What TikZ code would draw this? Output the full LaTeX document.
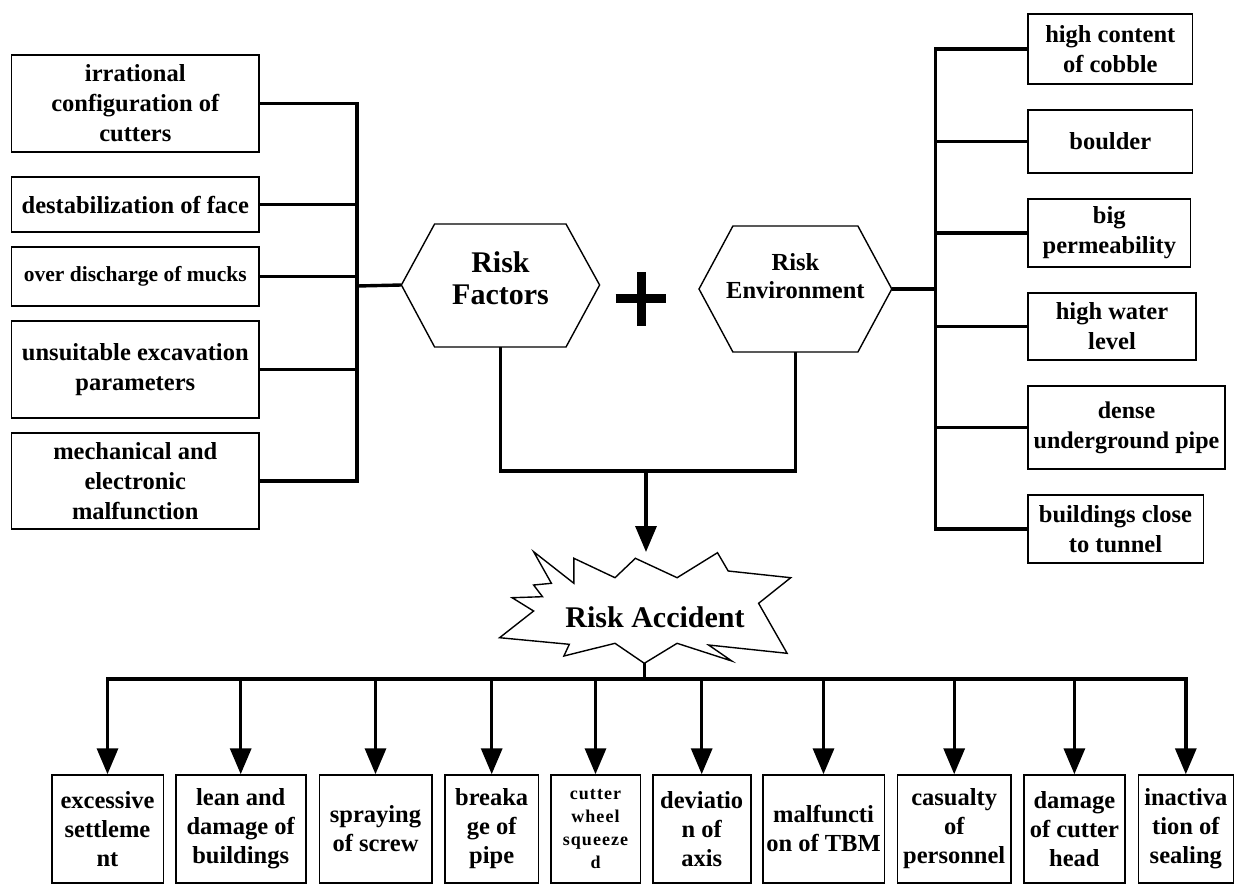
\documentclass[tikz,border=0pt]{standalone}
\usepackage{fontspec}
\setmainfont{Liberation Serif}
\usetikzlibrary{arrows.meta}
\begin{document}
\begin{tikzpicture}[x=1pt,y=-1pt,
  box/.style={draw,line width=1.6pt,inner sep=0pt,align=center,font=\fontsize{24.5}{30}\selectfont\bfseries},
  bbox/.style={box,minimum height=107.7pt,font=\fontsize{24.5}{29}\selectfont\bfseries},
  conn/.style={line width=3.4pt,line join=miter},
  arr/.style={conn,-{Triangle[width=21pt,length=26pt]}},
  shp/.style={draw,line width=1.4pt,line join=miter}]
\useasboundingbox (0,0) rectangle (1234,886);

% ---------- left boxes ----------
\node[box,minimum width=247.3pt,minimum height=97pt] (l1) at (135.3,103.5) {irrational\\configuration of\\cutters};
\node[box,minimum width=247.3pt,minimum height=55pt] (l2) at (135.3,204.5) {destabilization of face};
\node[box,minimum width=247.3pt,minimum height=59pt,font=\fontsize{21.5}{26}\selectfont\bfseries] (l3) at (135.3,276.5) {over discharge of mucks};
\node[box,minimum width=247.3pt,minimum height=97pt] (l4) at (135.3,369.5) {unsuitable excavation\\parameters};
\node[box,minimum width=247.3pt,minimum height=96pt] (l5) at (135.3,481) {mechanical and\\electronic\\malfunction};

% ---------- right boxes ----------
\node[box,minimum width=164.7pt,minimum height=70pt] (r1) at (1110.3,49) {high content\\of cobble};
\node[box,minimum width=164.7pt,minimum height=63pt] (r2) at (1110.3,141.5) {boulder};
\node[box,minimum width=162.7pt,minimum height=68pt] (r3) at (1109.3,233) {big\\permeability};
\node[box,minimum width=168pt,minimum height=67pt] (r4) at (1112,326.5) {high water\\level};
\node[box,minimum width=197pt,minimum height=83pt,font=\fontsize{24}{30}\selectfont\bfseries] (r5) at (1126.5,427.5) {dense\\underground pipe};
\node[box,minimum width=175.6pt,minimum height=67.7pt] (r6) at (1115.5,529) {buildings close\\to tunnel};

% ---------- hexagons ----------
\draw[shp] (401.4,285) -- (434.6,224) -- (566,224) -- (599.6,285) -- (566,347) -- (434.6,347) -- cycle;
\coordinate (rf-w) at (401.4,285);
\coordinate (rf-s) at (500.5,347);
\node[align=center,inner sep=0pt,font=\fontsize{30}{32}\selectfont\bfseries] (rf) at (500.5,278) {Risk\\Factors};

\draw[shp] (699,289) -- (732.9,226) -- (857.9,226) -- (891.8,289) -- (857.9,352) -- (732.9,352) -- cycle;
\coordinate (env-e) at (891.8,289);
\coordinate (env-s) at (795.4,352);
\node[align=center,inner sep=0pt,font=\fontsize{24.5}{28}\selectfont\bfseries] (env) at (795.4,276) {Risk\\Environment};

% plus sign
\draw[line width=8.5pt] (615.7,298.5) -- (665.7,298.5);
\draw[line width=9pt] (641,272) -- (641,326);

% ---------- starburst ----------
\draw[shp] (533.6,551.7) -- (551.4,583.3) -- (533.6,585) -- (542.5,596.7) -- (512.1,597.7)
  -- (533.6,611) -- (499.6,637.7) -- (569.3,644.3) -- (563.9,656) -- (615,643.3)
  -- (644.3,663.3) -- (677.1,643.3) -- (731.8,661) -- (708.6,645) -- (787.1,653.3)
  -- (758.6,603.3) -- (790.7,577.7) -- (728.2,571) -- (717.5,552.7) -- (677.1,577.7)
  -- (635.4,558.3) -- (615,577.7) -- (573.9,558.3) -- (573.9,583.3) -- cycle;
\coordinate (acc-n) at (646,552);
\coordinate (acc-s) at (644.3,663.3);
\node[inner sep=0pt,font=\fontsize{30}{32}\selectfont\bfseries] (acc) at (655,617.5) {Risk Accident};

% ---------- bottom boxes ----------
\node[bbox,minimum width=111.6pt] (b1) at (107.5,828.9) {excessive\\settleme\\nt};
\node[bbox,minimum width=130pt] (b2) at (240.7,828.9) {lean and\\damage of\\buildings};
\node[bbox,minimum width=112.4pt] (b3) at (375.5,828.9) {spraying\\of screw};
\node[bbox,minimum width=93.3pt] (b4) at (491.7,828.9) {breaka\\ge of\\pipe};
\node[bbox,minimum width=89.6pt,font=\fontsize{18}{23}\selectfont\bfseries\addfontfeature{LetterSpace=6}] (b5) at (595.5,828.9) {cutter\\wheel\\squeeze\\d};
\node[bbox,minimum width=98pt] (b6) at (701.7,828.9) {deviatio\\n of\\axis};
\node[bbox,minimum width=121.6pt] (b7) at (823.5,828.9) {malfuncti\\on of TBM};
\node[bbox,minimum width=113.7pt] (b8) at (954.2,828.9) {casualty\\of\\personnel};
\node[bbox,minimum width=101.3pt] (b9) at (1074.4,828.9) {damage\\of cutter\\head};
\node[bbox,minimum width=95pt] (b10) at (1185.8,828.9) {inactiva\\tion of\\sealing};

% ---------- connectors ----------
\coordinate (lj) at (357,286);
\foreach \i in {1,...,5} \draw[conn] (l\i.east) -| (lj);
\draw[conn] (lj) -- (rf-w);

\coordinate (rj) at (935.7,289);
\draw[conn] (env-e) -- (rj);
\foreach \i in {1,...,6} \draw[conn] (r\i.west) -| (rj);

\coordinate (mj) at (646,471);
\draw[conn] (rf-s) |- (mj);
\draw[conn] (env-s) |- (mj);
\draw[arr] (mj) -- (acc-n);

\coordinate (bj) at (644.3,679);
\draw[conn] (acc-s) -- (bj);
\foreach \i in {1,...,10} \draw[arr] (bj) -| (b\i.north);
\end{tikzpicture}
\end{document}
